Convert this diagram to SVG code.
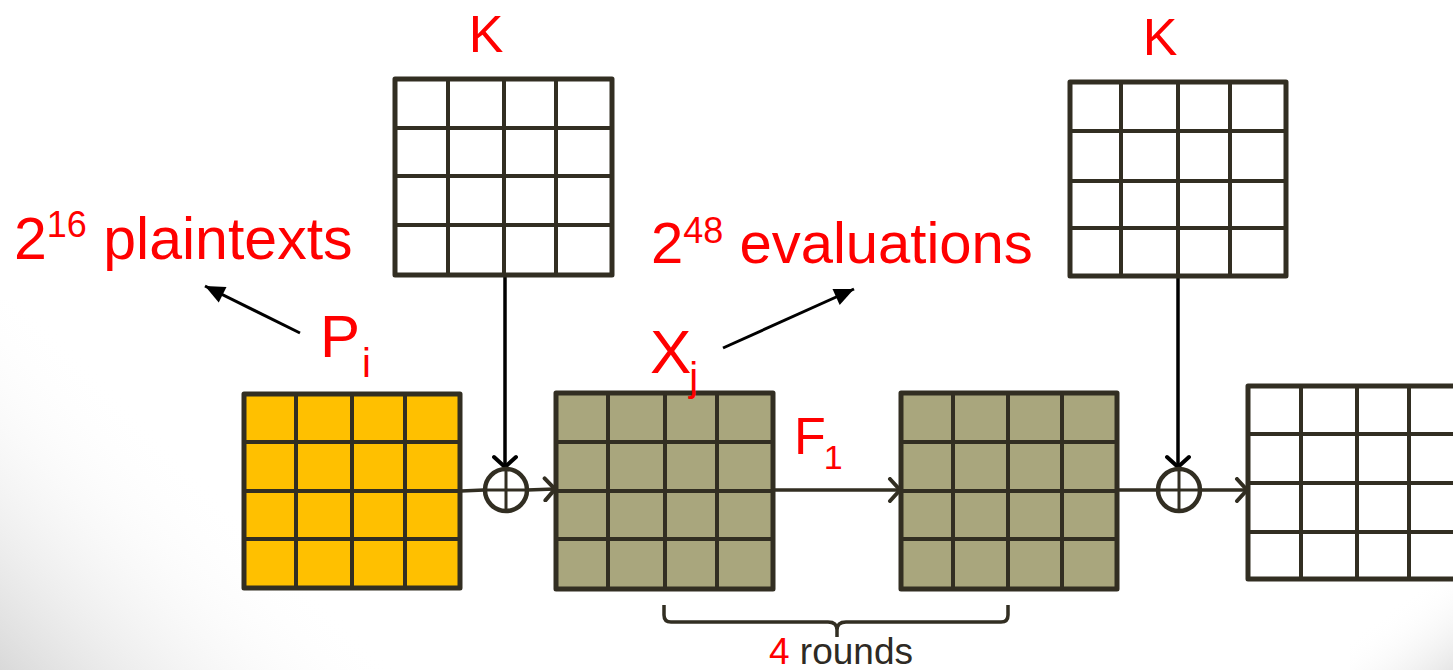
<svg xmlns="http://www.w3.org/2000/svg" width="1453" height="670" viewBox="0 0 1453 670">
  <defs>
    <linearGradient id="bgShade" gradientUnits="userSpaceOnUse" x1="0" y1="670" x2="200" y2="470">
      <stop offset="0" stop-color="#d9d9d9" stop-opacity="1"/>
      <stop offset="1" stop-color="#ffffff" stop-opacity="0"/>
    </linearGradient>
    <linearGradient id="bgShadeR" gradientUnits="userSpaceOnUse" x1="1453" y1="670" x2="1400" y2="600">
      <stop offset="0" stop-color="#e6e6e6" stop-opacity="1"/>
      <stop offset="1" stop-color="#ffffff" stop-opacity="0"/>
    </linearGradient>
    <marker id="chevK" markerUnits="userSpaceOnUse" markerWidth="24" markerHeight="26" viewBox="-12 -13 14 26" refX="0" refY="0" orient="auto">
      <path d="M-10,-11 L0,0 L-10,11" fill="none" stroke="#000" stroke-width="4" stroke-linecap="round"/>
    </marker>
    <marker id="chevD" markerUnits="userSpaceOnUse" markerWidth="24" markerHeight="26" viewBox="-12 -13 14 26" refX="0" refY="0" orient="auto">
      <path d="M-10,-11 L0,0 L-10,11" fill="none" stroke="#322e22" stroke-width="4" stroke-linecap="round"/>
    </marker>
    <marker id="tri" markerUnits="userSpaceOnUse" markerWidth="24" markerHeight="20" viewBox="-20 -9 22 18" refX="0" refY="0" orient="auto">
      <path d="M-18,-8 L0,0 L-18,8 Z" fill="#000"/>
    </marker>
  </defs>
  <style>
    .outer { stroke: #322e22; stroke-width: 5; stroke-linejoin: round; }
    .inner { stroke: #322e22; stroke-width: 4; fill: none; }
    .yellow { fill: #ffc000; }
    .olive { fill: #a9a67d; }
    .white { fill: #ffffff; }
    .conn { stroke: #322e22; stroke-width: 3.5; fill: none; }
    .keyline { stroke: #000; stroke-width: 3.5; fill: none; }
    .ptr { stroke: #000; stroke-width: 3; fill: none; }
    .xor { stroke: #322e22; stroke-width: 4.5; fill: none; }
    .xorx { stroke: #322e22; stroke-width: 3; fill: none; }
    .lbl { font-family: "Liberation Sans", Arial, sans-serif; fill: #ff0000; }
    .dark { fill: #2e2a24; }
  </style>

  <rect x="0" y="0" width="1453" height="670" fill="#ffffff"/>
  <rect x="0" y="300" width="400" height="370" fill="url(#bgShade)"/>
  <rect x="1350" y="560" width="103" height="110" fill="url(#bgShadeR)"/>

  <!-- connectors -->
  <g id="connectors">
    <path class="keyline" d="M505,275 L505,467" marker-end="url(#chevK)"/>
    <path class="keyline" d="M1178,276 L1178,467" marker-end="url(#chevK)"/>
    <path class="conn" d="M461,491 L484,490"/>
    <path class="conn" d="M527,490 L555,489" marker-end="url(#chevD)"/>
    <path class="conn" d="M773,490 L900,490" marker-end="url(#chevD)"/>
    <path class="conn" d="M1117,490 L1158,490"/>
    <path class="conn" d="M1200,490 L1247,490" marker-end="url(#chevD)"/>
    <path class="ptr" d="M300,333 L205,286" marker-end="url(#tri)"/>
    <path class="ptr" d="M723,348 L854,289" marker-end="url(#tri)"/>
  </g>

  <g id="xor1">
    <circle class="xor" cx="506" cy="490" r="21"/>
    <path class="xorx" d="M485,490 L527,490 M506,469 L506,511"/>
  </g>
  <g id="xor2">
    <circle class="xor" cx="1179" cy="490" r="21"/>
    <path class="xorx" d="M1158,490 L1200,490 M1179,469 L1179,511"/>
  </g>

  <g id="plaintext-state">
    <rect class="outer yellow" x="244" y="394" width="216" height="194"/>
    <path class="inner" d="M296,394 V588 M352,394 V588 M405,394 V588 M244,442 H460 M244,491 H460 M244,539 H460"/>
  </g>

  <g id="key1">
    <rect class="outer white" x="395" y="79" width="217" height="196"/>
    <path class="inner" d="M448,79 V275 M504,79 V275 M556,79 V275 M395,128 H612 M395,176 H612 M395,225 H612"/>
  </g>

  <g id="state-x">
    <rect class="outer olive" x="556" y="393" width="217" height="196"/>
    <path class="inner" d="M608,393 V589 M665,393 V589 M717,393 V589 M556,442 H773 M556,491 H773 M556,539 H773"/>
  </g>

  <g id="state-f">
    <rect class="outer olive" x="901" y="393" width="216" height="196"/>
    <path class="inner" d="M953,393 V589 M1008,393 V589 M1062,393 V589 M901,442 H1117 M901,491 H1117 M901,539 H1117"/>
  </g>

  <g id="key2">
    <rect class="outer white" x="1070" y="82" width="216" height="194"/>
    <path class="inner" d="M1121,82 V276 M1178,82 V276 M1230,82 V276 M1070,131 H1286 M1070,181 H1286 M1070,228 H1286"/>
  </g>

  <g id="output-state">
    <rect class="outer white" x="1248" y="386" width="216" height="193"/>
    <path class="inner" d="M1301,386 V579 M1357,386 V579 M1409,386 V579 M1248,434 H1464 M1248,483 H1464 M1248,532 H1464"/>
  </g>

  <g id="brace">
    <path class="conn" d="M664,605 L664,615 Q664,622 671,622 L828,622 Q837,622 837,630 L837,637 M837,630 Q837,622 846,622 L1001,622 Q1008,622 1008,615 L1008,605"/>
    <text class="lbl" x="769" y="664" font-size="37"><tspan fill="#ff0000">4</tspan><tspan class="dark"> rounds</tspan></text>
  </g>

  <g id="labels">
    <text class="lbl" x="486" y="52" font-size="52" text-anchor="middle">K</text>
    <text class="lbl" x="1160" y="55" font-size="52" text-anchor="middle">K</text>
    <text class="lbl" x="14" y="259" font-size="59">2<tspan font-size="36" dy="-22">16</tspan><tspan dy="22"> plaintexts</tspan></text>
    <text class="lbl" x="651" y="263" font-size="58">2<tspan font-size="36" dy="-20">48</tspan><tspan dy="20"> evaluations</tspan></text>
    <text class="lbl" x="320" y="357" font-size="60">P<tspan font-size="40" dy="20" dx="2">i</tspan></text>
    <text class="lbl" x="650" y="373" font-size="62">X<tspan font-size="40" dy="18" dx="-2">j</tspan></text>
    <text class="lbl" x="794" y="454" font-size="52">F<tspan font-size="34" dy="15" dx="-2">1</tspan></text>
  </g>
</svg>
